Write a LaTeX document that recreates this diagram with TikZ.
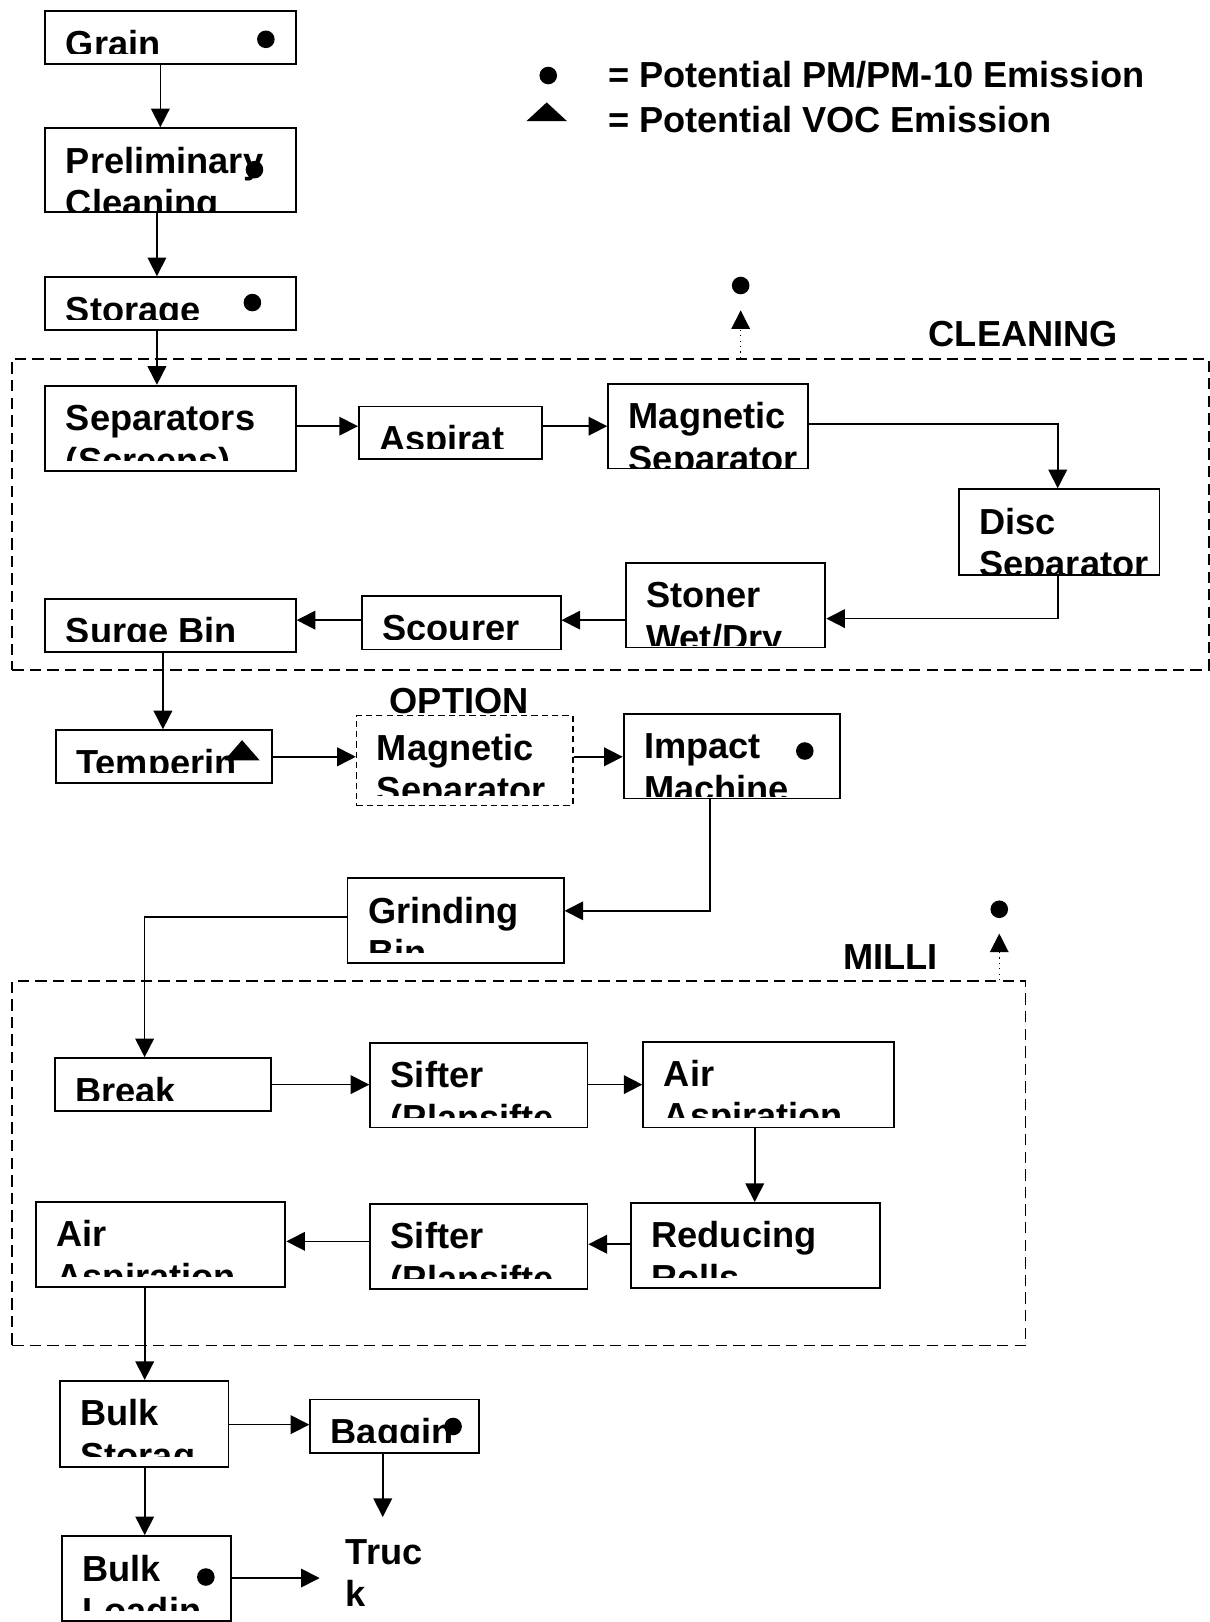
\documentclass[tikz,border=0pt]{standalone}
\usepackage{fontspec}
\setmainfont{Liberation Sans}
\usetikzlibrary{arrows.meta}
\usetikzlibrary{calc}
\tikzstyle{stage} = [rectangle, draw=black, line width=0.9pt, inner sep=0pt,
anchor=north west]
\tikzstyle{option} = [stage, line width=0.7pt, dash pattern=on 3pt off 2pt]
\tikzstyle{cluster} = [rectangle, draw=black, line width=0.8pt, inner sep=0pt,
anchor=north west, dash pattern=on 5.5pt off 3pt]
\tikzstyle{caption} = [anchor=base west, inner sep=0pt, minimum width=0pt,
minimum height=0pt, font=\fontsize{17.5}{20.5}\selectfont\bfseries]
\tikzstyle{flow} = [-{Triangle[length=9pt,width=9pt]}, line width=0.8pt]
\tikzstyle{vent} = [flow, line width=0.6pt, dotted]
\tikzstyle{emission} = [circle, fill=black, inner sep=0pt, minimum size=8.5pt]
\tikzset{clip gap/.store in=\clipgap, clip gap=5pt}
\newcommand{\stage}[8][]{ %
  % Box #2 with top left corner (#3,#4), size #5 x #6, text lines #7 and #8.
  \node[stage, minimum width=#5*0.5pt, minimum height=#6*0.5pt, #1,
    path picture={
      \clip (path picture bounding box.north west) rectangle
        ([yshift=\clipgap]path picture bounding box.south east);
      \node[caption] (#2-a) at ([shift={(9.5pt,-21.75pt)}]path picture bounding box.north west) {#7};
      \if\relax\detokenize{#8}\relax\else
      \node[caption] (#2-b) at ([shift={(9.5pt,-42.25pt)}]path picture bounding box.north west) {#8};
      \fi
    }] (#2) at (#3,#4) {};
}

\begin{document}
\begin{tikzpicture}[x=0.5pt, y=-0.5pt]
  \useasboundingbox (0,0) rectangle (1169,1568);

  % legend
  \node[emission] (pmkey) at (530,73) {};
  \fill (509,117) -- (548,117) -- (528.5,99) -- cycle;
  \node[caption] (pmtext) at (587.5,85) {= Potential PM/PM-10 Emission};
  \node[caption] (voctext) at (587.5,128) {= Potential VOC Emission};

  % receiving
  \stage{grain}{43}{10}{242}{51}{Grain}{}
  \stage[clip gap=0.5pt]{prelim}{43}{123}{242}{81}{Preliminary}{Cleaning}
  \stage{storage}{43}{267}{242}{51}{Storage}{}
  \node[emission] at (257,38) (grain-pm) {};
  \node[emission] at (246,164) (prelim-pm) {};
  \node[emission] at (244,292.5) (storage-pm) {};

  % cleaning
  \node[cluster, minimum width=1156.7*0.5pt, minimum height=301*0.5pt] (cleaning) at (11,346) {};
  \node[caption] (cleaning-lbl) at (897.5,335) {CLEANING};
  \node[emission] (cleaning-pm) at (716,276) {};
  \coordinate (cleaning-out) at (716,300);
  \stage{sep}{43}{372}{242}{82}{Separators}{(Screens)}
  \stage{aspir}{346}{392}{177}{51}{Aspirat}{}
  \stage[clip gap=0.5pt]{magsep}{587}{370}{193}{82}{Magnetic}{Separator}
  \stage[clip gap=0.5pt]{disc}{926}{472}{194}{83}{Disc}{Separator}
  \stage[clip gap=1pt]{stoner}{604}{543}{193}{82}{Stoner}{Wet/Dry}
  \stage{scourer}{349}{575}{192}{52}{Scourer}{}
  \stage{surge}{43}{578}{242}{51}{Surge Bin}{}

  % tempering
  \stage{temper}{53}{705}{209}{51}{Temperin}{}
  \fill (217,735) -- (251,735) -- (234,715.5) -- cycle;
  \node[caption] (option-lbl) at (376.4,689.7) {OPTION};
  \stage[option]{optmag}{344}{691}{209}{87}{Magnetic}{Separator}
  \stage[clip gap=0.8pt]{impact}{602}{689}{209}{82}{Impact}{Machine}
  \node[emission] (impact-pm) at (778,726) {};
  \stage{grindbin}{335}{848}{209}{82}{Grinding}{Bin}

  % milling
  \node[cluster, minimum width=979.5*0.5pt, minimum height=352.4*0.5pt] (milling) at (11,947.6) {};
  \node[caption] (milling-lbl) at (815,937) {MILLI};
  \node[emission] (milling-pm) at (966,879) {};
  \coordinate (milling-out) at (966,902.5);
  \stage{brk}{52}{1022}{209}{51}{Break}{}
  \stage{sifter1}{357}{1007}{210}{82}{Sifter}{(Plansifte}
  \stage{airasp1}{621}{1006}{242}{83}{Air}{Aspiration}
  \stage{reduce}{609}{1162}{241}{82}{Reducing}{Rolls}
  \stage{sifter2}{357}{1163}{210}{82}{Sifter}{(Plansifte}
  \stage{airasp2}{34}{1161}{241}{82}{Air}{Aspiration}

  % shipping
  \stage{bulkstor}{57}{1334}{163}{83}{Bulk}{Storag}
  \stage{bagging}{299}{1352}{163}{52}{Baggin}{}
  \node[emission] (bagging-pm) at (438,1379) {};
  \stage{bulkload}{59}{1484}{163}{82}{Bulk}{Loadin}
  \node[emission] (bulkload-pm) at (199,1524.5) {};
  \node[caption] (truck) at (334,1512) {Truc};
  \node[caption] (truck-k) at (334,1553) {k};
  \coordinate (truck-top) at (370,1466.5);
  \coordinate (truck-left) at (309,1525.5);

  % connectors
  \draw[flow] (155,0 |- grain.south) -- (155,0 |- prelim.north);
  \draw[flow] (151.7,0 |- prelim.south) -- (151.7,0 |- storage.north);
  \draw[flow] (151.7,0 |- storage.south) -- (151.7,0 |- sep.north);
  \draw[flow] (sep.east |- 0,412) -- (aspir.west |- 0,412);
  \draw[flow] (aspir.east |- 0,412) -- (magsep.west |- 0,412);
  \draw[flow] (magsep.east |- 0,410) -| (1022.5,0 |- disc.north);
  \draw[flow] (1022.5,0 |- disc.south) |- (stoner.east |- 0,598);
  \draw[flow] (stoner.west |- 0,599.5) -- (scourer.east |- 0,599.5);
  \draw[flow] (scourer.west |- 0,599.5) -- (surge.east |- 0,599.5);
  \draw[flow] (157.5,0 |- surge.south) -- (157.5,0 |- temper.north);
  \draw[flow] (temper.east |- 0,731.6) -- (optmag.west |- 0,731.6);
  \draw[flow] (optmag.east |- 0,731.6) -- (impact.west |- 0,731.6);
  \draw[flow] (686.5,0 |- impact.south) |- (grindbin.east |- 0,880.5);
  \draw[flow] (grindbin.west |- 0,886.4) -| (139.8,0 |- brk.north);
  \draw[flow] (brk.east |- 0,1048.5) -- (sifter1.west |- 0,1048.5);
  \draw[flow] (sifter1.east |- 0,1048.5) -- (airasp1.west |- 0,1048.5);
  \draw[flow] (729.6,0 |- airasp1.south) -- (729.6,0 |- reduce.north);
  \draw[flow] (reduce.west |- 0,1202.8) -- (sifter2.east |- 0,1202.8);
  \draw[flow] (sifter2.west |- 0,1200) -- (airasp2.east |- 0,1200);
  \draw[flow] (139.9,0 |- airasp2.south) -- (139.9,0 |- bulkstor.north);
  \draw[flow] (bulkstor.east |- 0,1377.2) -- (bagging.west |- 0,1377.2);
  \draw[flow] (truck-top |- bagging.south) -- (truck-top);
  \draw[flow] (139.9,0 |- bulkstor.south) -- (139.9,0 |- bulkload.north);
  \draw[flow] (bulkload.east |- truck-left) -- (truck-left);
  \draw[vent] (cleaning-out |- cleaning.north) -- (cleaning-out);
  \draw[vent] (milling-out |- milling.north) -- (milling-out);
\end{tikzpicture}
\end{document}
